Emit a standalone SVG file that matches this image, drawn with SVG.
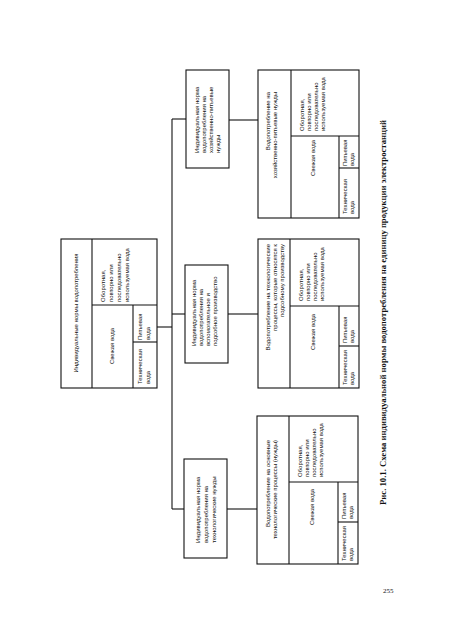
<svg xmlns="http://www.w3.org/2000/svg" width="450" height="626" viewBox="0 0 450 626">
<style>
rect,line{stroke:#111;fill:none;stroke-width:1.1}
text{font-family:"Liberation Sans",Arial,sans-serif;font-size:6px;fill:#111}
.m{text-anchor:middle}
.e{text-anchor:end}
.cap{font-family:"Liberation Serif","Times New Roman",serif;font-weight:bold;font-size:7.5px}
.pg{font-family:"Liberation Serif","Times New Roman",serif;font-size:7px}
</style>
<rect x="0" y="0" width="450" height="626" style="fill:#fff;stroke:none"/>
<g id="connectors">
<line x1="172" y1="119" x2="172" y2="509"/>
<line x1="157" y1="327" x2="172" y2="327"/>
<line x1="172" y1="119" x2="186" y2="119"/>
<line x1="172" y1="314" x2="185" y2="314"/>
<line x1="172" y1="509" x2="184" y2="509"/>
<line x1="229" y1="120" x2="258" y2="120"/>
<line x1="228" y1="314" x2="258" y2="314"/>
<line x1="227" y1="509" x2="257" y2="509"/>
</g>
<g id="norms">
<rect x="61" y="239" width="96" height="149"/>
<line x1="92" y1="239" x2="92" y2="388"/>
<line x1="92" y1="305" x2="157" y2="305"/>
<line x1="133" y1="305" x2="133" y2="388"/>
<line x1="133" y1="342" x2="157" y2="342"/>
<text class="m" transform="translate(78,313) rotate(-90)">Индивидуальные нормы водопотребления</text>
<text transform="translate(105,302) rotate(-90)"><tspan x="0">Оборотная,</tspan><tspan x="0" dy="8">повторно или</tspan><tspan x="0" dy="8">последовательно</tspan><tspan x="0" dy="8">используемая вода</tspan></text>
<text class="m" transform="translate(114,346) rotate(-90)">Свежая вода</text>
<text transform="translate(142,340) rotate(-90)"><tspan x="0">Питьевая</tspan><tspan x="0" dy="8">вода</tspan></text>
<text transform="translate(142,384) rotate(-90)"><tspan x="0">Техническая</tspan><tspan x="0" dy="8">вода</tspan></text>
</g>
<g id="norm-household">
<rect x="186" y="70" width="43" height="98"/>
<text transform="translate(199,153) rotate(-90)"><tspan x="0">Индивидуальная норма</tspan><tspan x="0" dy="7">водопотребления на</tspan><tspan x="0" dy="7">хозяйственно-питьевые</tspan><tspan x="0" dy="7">нужды</tspan></text>
</g>
<g id="norm-auxiliary">
<rect x="185" y="265" width="43" height="98"/>
<text transform="translate(196,346) rotate(-90)"><tspan x="0">Индивидуальная норма</tspan><tspan x="0" dy="7">водопотребления на</tspan><tspan x="0" dy="7">вспомогательное и</tspan><tspan x="0" dy="7">подсобное производство</tspan></text>
</g>
<g id="norm-technological">
<rect x="184" y="459" width="43" height="99"/>
<text transform="translate(200,543) rotate(-90)"><tspan x="0">Индивидуальная норма</tspan><tspan x="0" dy="8">водопотребления на</tspan><tspan x="0" dy="8">технологические нужды</tspan></text>
</g>
<g id="use-household">
<rect x="258" y="70" width="101" height="148"/>
<line x1="291" y1="70" x2="291" y2="218"/>
<line x1="291" y1="136" x2="359" y2="136"/>
<line x1="339" y1="136" x2="339" y2="218"/>
<line x1="339" y1="168" x2="359" y2="168"/>
<text class="e" transform="translate(270,92) rotate(-90)"><tspan x="0">Водопотребление на</tspan><tspan x="0" dy="7">хозяйственно-питьевые нужды</tspan></text>
<text transform="translate(304,131) rotate(-90)"><tspan x="0">Оборотная,</tspan><tspan x="0" dy="7">повторно или</tspan><tspan x="0" dy="7">последовательно</tspan><tspan x="0" dy="7">используемая вода</tspan></text>
<text transform="translate(315,176) rotate(-90)">Свежая вода</text>
<text transform="translate(347,166) rotate(-90)"><tspan x="0">Питьевая</tspan><tspan x="0" dy="7">вода</tspan></text>
<text transform="translate(347,214) rotate(-90)"><tspan x="0">Техническая</tspan><tspan x="0" dy="7">вода</tspan></text>
</g>
<g id="use-auxiliary">
<rect x="258" y="239" width="101" height="149"/>
<line x1="290" y1="239" x2="290" y2="388"/>
<line x1="290" y1="306" x2="359" y2="306"/>
<line x1="339" y1="306" x2="339" y2="388"/>
<line x1="339" y1="346" x2="359" y2="346"/>
<text class="e" transform="translate(270,244) rotate(-90)"><tspan x="0">Водопотребление на технологические</tspan><tspan x="0" dy="7">процессы, которые относятся к</tspan><tspan x="0" dy="7">подсобному производству</tspan></text>
<text transform="translate(303,301) rotate(-90)"><tspan x="0">Оборотная,</tspan><tspan x="0" dy="7">повторно или</tspan><tspan x="0" dy="7">последовательно</tspan><tspan x="0" dy="7">используемая вода</tspan></text>
<text transform="translate(315,350) rotate(-90)">Свежая вода</text>
<text transform="translate(347,343) rotate(-90)"><tspan x="0">Питьевая</tspan><tspan x="0" dy="7">вода</tspan></text>
<text transform="translate(347,385) rotate(-90)"><tspan x="0">Техническая</tspan><tspan x="0" dy="7">вода</tspan></text>
</g>
<g id="use-technological">
<rect x="257" y="416" width="101" height="148"/>
<line x1="289" y1="416" x2="289" y2="564"/>
<line x1="289" y1="482" x2="358" y2="482"/>
<line x1="338" y1="482" x2="338" y2="564"/>
<line x1="338" y1="522" x2="358" y2="522"/>
<text class="e" transform="translate(270,440) rotate(-90)"><tspan x="0">Водопотребление на основные</tspan><tspan x="0" dy="7">технологические процессы (нужды)</tspan></text>
<text transform="translate(302,477) rotate(-90)"><tspan x="0">Оборотная,</tspan><tspan x="0" dy="7">повторно или</tspan><tspan x="0" dy="7">последовательно</tspan><tspan x="0" dy="7">используемая вода</tspan></text>
<text transform="translate(314,525) rotate(-90)">Свежая вода</text>
<text transform="translate(346,519) rotate(-90)"><tspan x="0">Питьевая</tspan><tspan x="0" dy="7">вода</tspan></text>
<text transform="translate(346,561) rotate(-90)"><tspan x="0">Техническая</tspan><tspan x="0" dy="7">вода</tspan></text>
</g>
<text class="cap" transform="translate(386,505) rotate(-90)" textLength="385" lengthAdjust="spacingAndGlyphs">Рис. 10.1. Схема индивидуальной нормы водопотребления на единицу продукции электростанций</text>
<text class="pg" x="383" y="593">255</text>
</svg>
